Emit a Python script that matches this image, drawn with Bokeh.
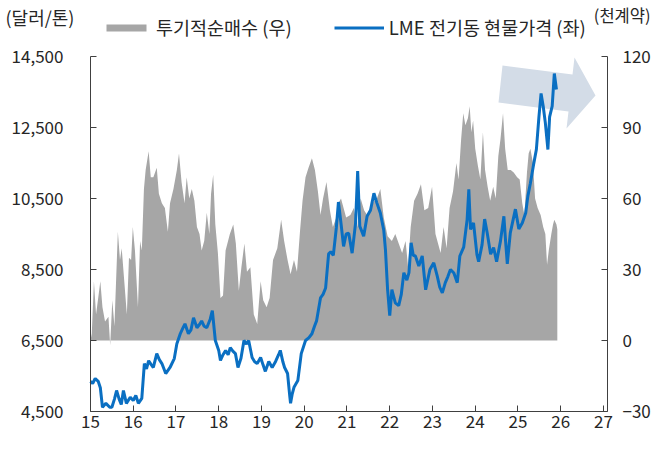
from bokeh.plotting import figure
from bokeh.models import (Range1d, LinearAxis, FixedTicker, NumeralTickFormatter,
                          Legend, LegendItem, Label)
from bokeh.embed import file_html
from bokeh.resources import INLINE

FONT = "Noto Sans CJK KR"

# ---------------- data ----------------
x_ticks = [15, 16, 17, 18, 19, 20, 21, 22, 23, 24, 25, 26, 27]
left_ticks = [4500, 6500, 8500, 10500, 12500, 14500]
right_ticks = [-30, 0, 30, 60, 90, 120]

line_t = [15.00,15.05,15.11,15.18,15.23,15.28,15.36,15.45,15.50,15.56,15.61,15.67,15.72,15.77,15.84,15.93,
          16.00,16.06,16.12,16.20,16.26,16.31,16.36,16.42,16.47,16.55,16.61,16.67,16.76,16.86,16.96,
          17.02,17.10,17.16,17.21,17.29,17.35,17.41,17.49,17.55,17.60,17.66,17.72,17.80,17.85,17.92,
          18.00,18.04,18.10,18.16,18.22,18.27,18.33,18.39,18.45,18.52,18.59,18.65,18.70,18.78,18.84,18.90,18.98,
          19.04,19.09,19.17,19.25,19.33,19.40,19.44,19.50,19.54,19.61,19.66,19.68,19.72,19.76,19.85,19.93,
          20.03,20.11,20.18,20.24,20.29,20.38,20.44,20.50,20.57,20.62,20.68,20.75,20.80,20.86,20.92,20.98,
          21.04,21.12,21.20,21.25,21.30,21.39,21.47,21.55,21.63,21.70,21.78,21.86,21.90,21.95,
          22.00,22.05,22.13,22.21,22.27,22.33,22.40,22.45,22.50,22.55,22.60,22.68,22.76,22.84,22.94,
          23.03,23.11,23.17,23.23,23.30,23.36,23.42,23.50,23.58,23.64,23.73,23.81,23.85,23.89,23.96,
          24.04,24.08,24.16,24.22,24.28,24.36,24.43,24.50,24.59,24.67,24.71,24.75,24.82,24.94,
          25.02,25.10,25.18,25.23,25.29,25.37,25.43,25.49,25.54,25.59,25.64,25.70,25.74,25.80,25.85,25.90]
line_price = [5350,5290,5430,5350,5170,4620,4730,4620,4620,4850,5090,4850,4700,5090,4730,4900,
              4810,4950,4730,4870,5850,5700,5930,5820,5740,6130,5960,5850,5570,5740,5990,
              6410,6690,6850,6970,6690,6800,7140,6860,6950,7050,6900,6860,7100,7340,6500,
              6220,5940,6100,6220,6100,6300,6200,6130,5740,6000,6500,6400,6500,6020,5900,5850,6020,
              5800,5630,5910,5740,5910,6100,6220,5900,5740,5570,4950,4730,5000,5180,5370,6130,
              6500,6580,6690,6900,7060,7700,7800,7980,8940,9000,8900,9670,10400,9800,9150,9500,
              9520,8960,9800,11270,9720,9440,10000,10170,10650,10370,10090,9610,9050,7930,
              7200,7930,7560,7480,7800,8410,8200,8410,9250,8900,8880,8600,8880,7930,8500,
              8690,8320,8000,7840,8130,8300,8500,8400,8130,8880,9130,9900,10760,9630,9810,
              8920,8720,9200,9920,9530,8930,9120,8720,9300,10000,9300,8660,9530,10200,
              9640,9810,10090,10560,10930,11490,11880,12800,13460,13100,12630,11880,12800,13100,14020,13570]

area_t = [15.00,15.03,15.08,15.13,15.18,15.23,15.28,15.34,15.42,15.46,15.51,15.56,15.64,15.69,15.73,15.79,15.85,15.90,15.95,15.99,
          16.04,16.11,16.16,16.20,16.25,16.29,16.36,16.41,16.47,16.55,16.60,16.67,16.74,16.81,16.86,16.94,
          17.02,17.07,17.13,17.20,17.25,17.31,17.37,17.43,17.49,17.55,17.60,17.66,17.72,17.78,17.82,17.87,17.92,17.98,
          18.04,18.10,18.16,18.26,18.34,18.40,18.47,18.53,18.60,18.66,18.74,18.82,18.90,18.98,
          19.04,19.12,19.19,19.27,19.37,19.46,19.53,19.61,19.68,19.76,19.83,19.90,19.96,
          20.03,20.10,20.18,20.25,20.32,20.38,20.44,20.52,20.60,20.67,20.75,20.80,20.86,20.92,20.98,
          21.08,21.16,21.24,21.32,21.40,21.47,21.55,21.63,21.70,21.78,21.86,21.95,
          22.05,22.13,22.21,22.29,22.37,22.43,22.49,22.57,22.65,22.73,22.81,22.90,22.99,
          23.07,23.19,23.26,23.33,23.40,23.48,23.56,23.61,23.67,23.72,23.77,23.83,23.87,23.91,23.95,
          24.00,24.06,24.12,24.18,24.23,24.29,24.35,24.42,24.48,24.54,24.59,24.65,24.70,24.76,24.83,24.90,24.98,
          25.04,25.10,25.15,25.21,25.25,25.29,25.35,25.40,25.46,25.53,25.59,25.64,25.68,25.72,25.78,25.82,25.85,25.90,25.92]
area_net = [0,3,25,11,18,25,14,8,10,-2,17,6,46,34,39,25,11,35,34,48,
            38,14,42,38,64,72,80,69,69,73,62,58,56,46,58,64,
            72,79,67,58,69,60,64,59,48,45,38,42,54,45,62,70,49,37,
            18,19,38,45,49,41,21,31,41,29,31,11,7,25,
            17,14,18,34,39,51,42,34,28,34,29,46,59,
            69,73,77,72,63,53,60,67,55,48,52,58,60,56,52,
            53,56,48,60,55,53,56,59,60,64,52,44,
            42,45,41,37,42,31,48,59,62,66,55,56,65,
            45,37,48,39,56,63,75,68,85,96,91,94,99,88,93,
            81,74,68,88,72,65,59,65,60,78,85,96,81,72,72,71,69,
            68,58,53,71,79,81,75,60,56,53,48,45,32,38,45,49,51,49,47]

series_names = ["투기적순매수 (우)", "LME 전기동 현물가격 (좌)"]
left_unit = "(달러/톤)"
right_unit = "(천계약)"

GREY = "#A6A6A6"
BLUE = "#0A6FC2"
ARROW = "#D3DCE7"
AX = "#404040"
TXT = "#262626"

# ---------------- layout geometry (pixels) ----------------
W, H = 651, 435
FX0, FX1 = 90, 607          # plot area left/right
FY0, FY1 = 411, 56          # plot area bottom/top
T0, T1 = 15, 27.094
L0, L1 = 4500, 14500
R0, R1 = -30, 120


def px_x(px):
    return T0 + (px - FX0) * (T1 - T0) / (FX1 - FX0)


def px_y(py, lo=L0, hi=L1):
    return lo + (FY0 - py) * (hi - lo) / (FY0 - FY1)


# decorative arrow outline, pixel positions
arrow_px = [502, 572, 574, 595, 566, 568, 498]
arrow_py = [65, 74, 57, 95, 128, 111, 102]

p = figure(width=W, height=H, output_backend="svg", toolbar_location=None,
           x_range=Range1d(px_x(0), px_x(W)), y_range=Range1d(px_y(H), px_y(0)),
           x_axis_type=None, y_axis_type=None,
           min_border_left=0, min_border_right=0, min_border_top=0, min_border_bottom=0)
p.extra_y_ranges = {"net": Range1d(px_y(H, R0, R1), px_y(0, R0, R1))}
p.outline_line_color = None


def style(ax):
    ax.major_tick_in = 6
    ax.major_tick_out = 0
    ax.minor_tick_line_color = None
    ax.axis_line_color = AX
    ax.major_tick_line_color = AX
    ax.major_label_text_font = FONT
    ax.major_label_text_font_size = "17px"
    ax.major_label_text_color = TXT


xaxis = LinearAxis(ticker=FixedTicker(ticks=x_ticks), fixed_location=L0, bounds=(T0, T1))
style(xaxis)
xaxis.major_label_standoff = 3
p.add_layout(xaxis, "below")

laxis = LinearAxis(ticker=FixedTicker(ticks=left_ticks), formatter=NumeralTickFormatter(format="0,0"),
                   fixed_location=T0, bounds=(L0, L1))
style(laxis)
laxis.major_label_standoff = 27
p.add_layout(laxis, "left")

raxis = LinearAxis(y_range_name="net", ticker=FixedTicker(ticks=right_ticks),
                   fixed_location=T1, bounds=(R0, R1))
style(raxis)
raxis.major_label_standoff = 15
p.add_layout(raxis, "right")

area_r = p.varea(x=area_t, y1=0, y2=area_net, y_range_name="net", fill_color=GREY)
p.patch([px_x(v) for v in arrow_px], [px_y(v) for v in arrow_py], fill_color=ARROW, line_color=None)
line_r = p.line(line_t, line_price, line_color=BLUE, line_width=3)

legend = Legend(items=[LegendItem(label=series_names[0], renderers=[area_r]),
                       LegendItem(label=series_names[1], renderers=[line_r])],
                orientation="horizontal", location=(101, H - 40), padding=0, margin=0,
                spacing=42, label_standoff=5, glyph_width=50, glyph_height=9,
                border_line_color=None, background_fill_alpha=0,
                label_text_font=FONT, label_text_font_size="18.5px", label_text_color=TXT)
p.add_layout(legend)

p.add_layout(Label(x=px_x(5), y=px_y(16), text=left_unit, text_align="left", text_baseline="middle",
                   text_font=FONT, text_font_size="18px", text_color=TXT))
p.add_layout(Label(x=px_x(650), y=px_y(14), text=right_unit, text_align="right", text_baseline="middle",
                   text_font=FONT, text_font_size="16.5px", text_color=TXT))

open("out.html", "w").write(file_html(p, INLINE))
